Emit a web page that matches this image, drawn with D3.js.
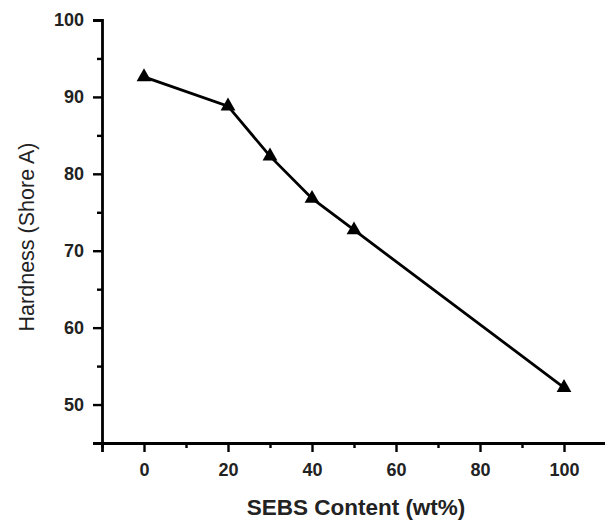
<!DOCTYPE html>
<html>
<head>
<meta charset="utf-8">
<script src="https://cdn.jsdelivr.net/npm/d3@7"></script>
<style>
  html, body { margin: 0; padding: 0; background: #fff; }
  svg { display: block; font-family: "Liberation Sans", Arial, sans-serif; }
</style>
</head>
<body>
<div id="chart"></div>
<script>
// SEBS content (wt%) vs hardness (Shore A)
const sebsContent = [0, 20, 30, 40, 50, 100];
const hardness = [92.6, 88.8, 82.3, 76.8, 72.7, 52.2];
const xTicks = [0, 20, 40, 60, 80, 100];
const xMinor = [-10, 10, 30, 50, 70, 90, 110];
const yTicks = [50, 60, 70, 80, 90, 100];
const yMinor = [45, 55, 65, 75, 85, 95];

const W = 605, H = 527;
const svg = d3.select('#chart').append('svg')
  .attr('width', W).attr('height', H);

const x = d3.scaleLinear().domain([-10, 110]).range([102, 606]);
const y = d3.scaleLinear().domain([45, 100]).range([443, 20]);

const axisColor = '#000';
const tickFont = '"Liberation Sans", Arial, sans-serif';

// y axis
const gy = svg.append('g').attr('transform', `translate(${x(-10)},0)`);
gy.call(d3.axisLeft(y).tickValues(yTicks).tickSize(9).tickPadding(9).tickFormat(d3.format('d')));
gy.append('g').call(d3.axisLeft(y).tickValues(yMinor).tickSize(5).tickFormat(''));

// x axis
const gx = svg.append('g').attr('transform', `translate(0,${y(45)})`);
gx.call(d3.axisBottom(x).tickValues(xTicks).tickSize(9).tickPadding(11).tickFormat(d3.format('d')));
gx.append('g').call(d3.axisBottom(x).tickValues(xMinor).tickSize(5).tickFormat(''));

[gy, gx].forEach(g => g
  .attr('font-family', tickFont)
  .attr('font-size', 18)
  .attr('font-weight', 'bold'));

svg.selectAll('.domain').attr('stroke', axisColor).attr('stroke-width', 2.8);
svg.selectAll('.tick line').attr('stroke', axisColor).attr('stroke-width', 2.4);
svg.selectAll('.tick text')
  .attr('fill', '#222')
  .style('font-size', '18px')
  .style('font-weight', 'bold');
gy.selectAll('g > g .domain').remove();
gx.selectAll('g > g .domain').remove();

// line
const pts = sebsContent.map((d, i) => [d, hardness[i]]);
svg.append('path')
  .datum(pts)
  .attr('fill', 'none')
  .attr('stroke', '#000')
  .attr('stroke-width', 2.8)
  .attr('d', d3.line().x(d => x(d[0])).y(d => y(d[1])));

// triangle markers
const tri = d3.symbol().type(d3.symbolTriangle).size(95);
svg.selectAll('.marker')
  .data(pts)
  .join('path')
  .attr('class', 'marker')
  .attr('transform', d => `translate(${x(d[0])},${y(d[1])})`)
  .attr('d', tri)
  .attr('fill', '#000');

// axis titles
svg.append('text')
  .attr('x', 356).attr('y', 515)
  .attr('text-anchor', 'middle')
  .attr('font-size', '22.5px')
  .attr('font-weight', 'bold')
  .attr('fill', '#222')
  .text('SEBS Content (wt%)');

svg.append('text')
  .attr('transform', `translate(34,237) rotate(-90)`)
  .attr('text-anchor', 'middle')
  .attr('font-size', '21.5px')
  .attr('fill', '#222')
  .text('Hardness (Shore A)');
</script>
</body>
</html>
